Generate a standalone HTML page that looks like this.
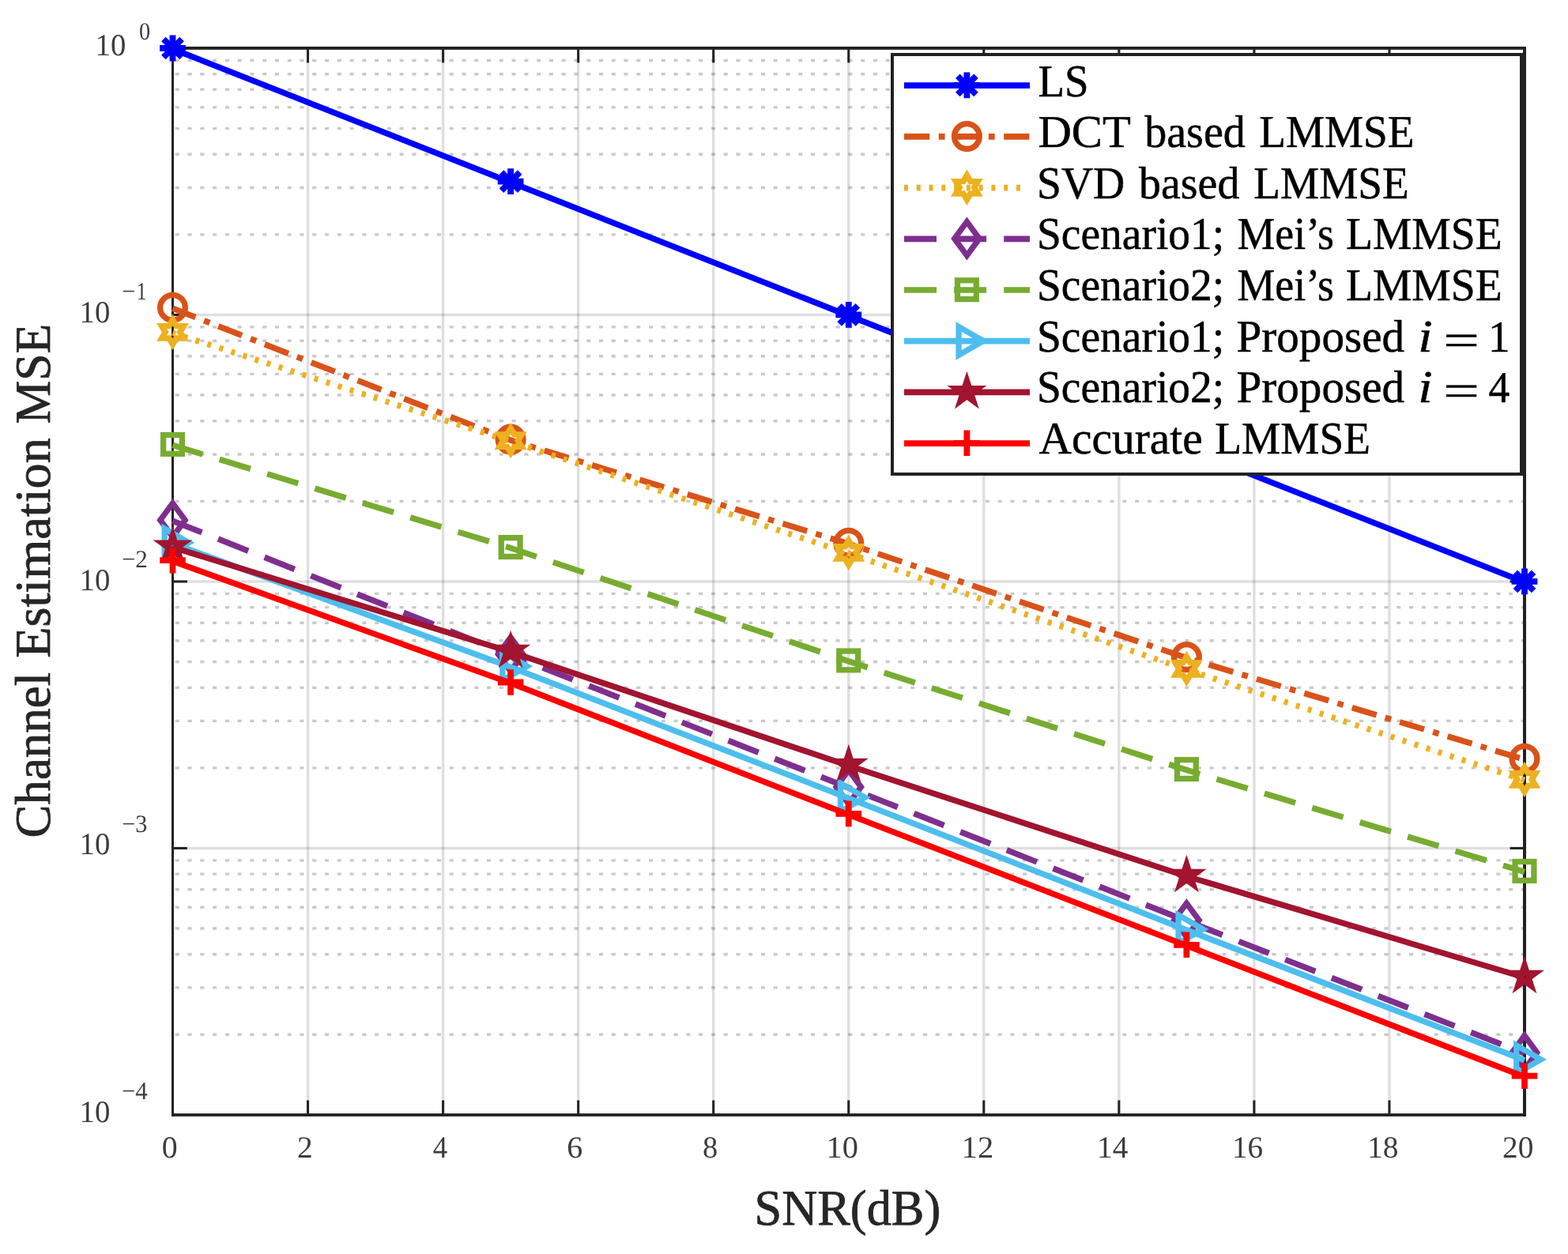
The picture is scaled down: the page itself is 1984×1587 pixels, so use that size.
<!DOCTYPE html>
<html lang="en">
<head>
<meta charset="utf-8">
<title>Channel Estimation MSE vs SNR(dB)</title>
<style>
html,body{margin:0;padding:0;background:#fff;}
body{width:1984px;height:1587px;}
svg{display:block;}
</style>
</head>
<body>
<svg width="1984" height="1587" viewBox="0 0 1984 1587" shape-rendering="geometricPrecision" text-rendering="geometricPrecision">
<rect x="0" y="0" width="1984" height="1587" fill="#fff"/>
<g id="grid" fill="none">
<path d="M221.8 296.88H1929M221.8 237.46H1929M221.8 195.29H1929M221.8 162.59H1929M221.8 135.87H1929M221.8 113.28H1929M221.8 93.7H1929M221.8 76.44H1929M221.8 634.36H1929M221.8 574.93H1929M221.8 532.77H1929M221.8 500.07H1929M221.8 473.34H1929M221.8 450.75H1929M221.8 431.18H1929M221.8 413.92H1929M221.8 971.83H1929M221.8 912.41H1929M221.8 870.24H1929M221.8 837.54H1929M221.8 810.82H1929M221.8 788.23H1929M221.8 768.65H1929M221.8 751.39H1929M221.8 1309.31H1929M221.8 1249.88H1929M221.8 1207.72H1929M221.8 1175.02H1929M221.8 1148.29H1929M221.8 1125.7H1929M221.8 1106.13H1929M221.8 1088.87H1929" stroke="#262626" stroke-opacity="0.25" stroke-width="3.4" stroke-dasharray="5 10.77"/>
<path d="M389.55 61V1410.9M560.6 61V1410.9M731.65 61V1410.9M902.7 61V1410.9M1073.75 61V1410.9M1244.8 61V1410.9M1415.85 61V1410.9M1586.9 61V1410.9M1757.95 61V1410.9" stroke="#262626" stroke-opacity="0.15" stroke-width="3.4"/>
<path d="M218.5 398.48H1929M218.5 735.95H1929M218.5 1073.43H1929" stroke="#262626" stroke-opacity="0.15" stroke-width="3.4"/>
</g>
<g id="axes" fill="#222222">
<rect x="217" y="59" width="3" height="1354"/>
<rect x="1927" y="59" width="4" height="1354"/>
<rect x="217" y="59" width="1714" height="3.9"/>
<rect x="217" y="1409.1" width="1714" height="3.8"/>
<rect x="388.05" y="1392.5" width="3" height="18.4"/>
<rect x="388.05" y="61" width="3" height="18.4"/>
<rect x="559.1" y="1392.5" width="3" height="18.4"/>
<rect x="559.1" y="61" width="3" height="18.4"/>
<rect x="730.15" y="1392.5" width="3" height="18.4"/>
<rect x="730.15" y="61" width="3" height="18.4"/>
<rect x="901.2" y="1392.5" width="3" height="18.4"/>
<rect x="901.2" y="61" width="3" height="18.4"/>
<rect x="1072.25" y="1392.5" width="3" height="18.4"/>
<rect x="1072.25" y="61" width="3" height="18.4"/>
<rect x="1243.3" y="1392.5" width="3" height="18.4"/>
<rect x="1243.3" y="61" width="3" height="18.4"/>
<rect x="1414.35" y="1392.5" width="3" height="18.4"/>
<rect x="1414.35" y="61" width="3" height="18.4"/>
<rect x="1585.4" y="1392.5" width="3" height="18.4"/>
<rect x="1585.4" y="61" width="3" height="18.4"/>
<rect x="1756.45" y="1392.5" width="3" height="18.4"/>
<rect x="1756.45" y="61" width="3" height="18.4"/>
<rect x="218.5" y="396.98" width="18.4" height="3"/>
<rect x="1910.6" y="396.98" width="18.4" height="3"/>
<rect x="218.5" y="734.45" width="18.4" height="3"/>
<rect x="1910.6" y="734.45" width="18.4" height="3"/>
<rect x="218.5" y="1071.93" width="18.4" height="3"/>
<rect x="1910.6" y="1071.93" width="18.4" height="3"/>
</g>
<g id="data">
<polyline points="218.5,62 646.12,230.7 1073.75,399.4 1501.38,568.1 1929,736.8" fill="none" stroke="#0000FF" stroke-width="7.5" stroke-linejoin="round"/>
<path stroke="#0000FF" stroke-width="7.8" fill="none" stroke-linejoin="miter" stroke-miterlimit="10" d="M202.1 61H234.9M218.5 44.6V77.4M206.9 49.4L230.1 72.6M206.9 72.6L230.1 49.4"/>
<path stroke="#0000FF" stroke-width="7.8" fill="none" stroke-linejoin="miter" stroke-miterlimit="10" d="M629.73 229.7H662.52M646.12 213.3V246.1M634.53 218.1L657.72 241.3M634.53 241.3L657.72 218.1"/>
<path stroke="#0000FF" stroke-width="7.8" fill="none" stroke-linejoin="miter" stroke-miterlimit="10" d="M1057.35 398.4H1090.15M1073.75 382V414.8M1062.15 386.8L1085.35 410M1062.15 410L1085.35 386.8"/>
<path stroke="#0000FF" stroke-width="7.8" fill="none" stroke-linejoin="miter" stroke-miterlimit="10" d="M1484.97 567.1H1517.78M1501.38 550.7V583.5M1489.78 555.5L1512.97 578.7M1489.78 578.7L1512.97 555.5"/>
<path stroke="#0000FF" stroke-width="7.8" fill="none" stroke-linejoin="miter" stroke-miterlimit="10" d="M1912.6 735.8H1945.4M1929 719.4V752.2M1917.4 724.2L1940.6 747.4M1917.4 747.4L1940.6 724.2"/>
<polyline points="218.5,390.3 646.12,557.1 1073.75,688.2 1501.38,832.6 1929,961.2" fill="none" stroke="#D95319" stroke-width="7.5" stroke-dasharray="32.2 11.55 7.8 11.55" stroke-dashoffset="1.2" stroke-linejoin="round"/>
<circle stroke="#D95319" stroke-width="7.3" fill="none" stroke-linejoin="miter" stroke-miterlimit="10" cx="218.5" cy="389.3" r="15.9"/>
<circle stroke="#D95319" stroke-width="7.3" fill="none" stroke-linejoin="miter" stroke-miterlimit="10" cx="646.12" cy="556.1" r="15.9"/>
<circle stroke="#D95319" stroke-width="7.3" fill="none" stroke-linejoin="miter" stroke-miterlimit="10" cx="1073.75" cy="687.2" r="15.9"/>
<circle stroke="#D95319" stroke-width="7.3" fill="none" stroke-linejoin="miter" stroke-miterlimit="10" cx="1501.38" cy="831.6" r="15.9"/>
<circle stroke="#D95319" stroke-width="7.3" fill="none" stroke-linejoin="miter" stroke-miterlimit="10" cx="1929" cy="960.2" r="15.9"/>
<polyline points="218.5,421.3 646.12,558.6 1073.75,700.4 1501.38,847.4 1929,987.4" fill="none" stroke="#EDB120" stroke-width="7.5" stroke-dasharray="5 10.775" stroke-dashoffset="1.2" stroke-linejoin="round"/>
<polygon stroke="#EDB120" stroke-width="7.3" fill="none" stroke-linejoin="miter" stroke-miterlimit="10" points="0,-15.4 4.45,-7.7 13.34,-7.7 8.89,0 13.34,7.7 4.45,7.7 0,15.4 -4.45,7.7 -13.34,7.7 -8.89,0 -13.34,-7.7 -4.45,-7.7" transform="translate(218.5 420.3) scale(1.04 1)"/>
<polygon stroke="#EDB120" stroke-width="7.3" fill="none" stroke-linejoin="miter" stroke-miterlimit="10" points="0,-15.4 4.45,-7.7 13.34,-7.7 8.89,0 13.34,7.7 4.45,7.7 0,15.4 -4.45,7.7 -13.34,7.7 -8.89,0 -13.34,-7.7 -4.45,-7.7" transform="translate(646.12 557.6) scale(1.04 1)"/>
<polygon stroke="#EDB120" stroke-width="7.3" fill="none" stroke-linejoin="miter" stroke-miterlimit="10" points="0,-15.4 4.45,-7.7 13.34,-7.7 8.89,0 13.34,7.7 4.45,7.7 0,15.4 -4.45,7.7 -13.34,7.7 -8.89,0 -13.34,-7.7 -4.45,-7.7" transform="translate(1073.75 699.4) scale(1.04 1)"/>
<polygon stroke="#EDB120" stroke-width="7.3" fill="none" stroke-linejoin="miter" stroke-miterlimit="10" points="0,-15.4 4.45,-7.7 13.34,-7.7 8.89,0 13.34,7.7 4.45,7.7 0,15.4 -4.45,7.7 -13.34,7.7 -8.89,0 -13.34,-7.7 -4.45,-7.7" transform="translate(1501.38 846.4) scale(1.04 1)"/>
<polygon stroke="#EDB120" stroke-width="7.3" fill="none" stroke-linejoin="miter" stroke-miterlimit="10" points="0,-15.4 4.45,-7.7 13.34,-7.7 8.89,0 13.34,7.7 4.45,7.7 0,15.4 -4.45,7.7 -13.34,7.7 -8.89,0 -13.34,-7.7 -4.45,-7.7" transform="translate(1929 986.4) scale(1.04 1)"/>
<polyline points="218.5,659.2 646.12,829 1073.75,997 1501.38,1165.5 1929,1333" fill="none" stroke="#7E2F8E" stroke-width="7.5" stroke-dasharray="41 22.1" stroke-dashoffset="1.2" stroke-linejoin="round"/>
<polygon stroke="#7E2F8E" stroke-width="7.3" fill="none" stroke-linejoin="miter" stroke-miterlimit="10" points="218.5,636.9 234.2,658.2 218.5,679.5 202.8,658.2"/>
<polygon stroke="#7E2F8E" stroke-width="7.3" fill="none" stroke-linejoin="miter" stroke-miterlimit="10" points="646.12,806.7 661.83,828 646.12,849.3 630.42,828"/>
<polygon stroke="#7E2F8E" stroke-width="7.3" fill="none" stroke-linejoin="miter" stroke-miterlimit="10" points="1073.75,974.7 1089.45,996 1073.75,1017.3 1058.05,996"/>
<polygon stroke="#7E2F8E" stroke-width="7.3" fill="none" stroke-linejoin="miter" stroke-miterlimit="10" points="1501.38,1143.2 1517.08,1164.5 1501.38,1185.8 1485.67,1164.5"/>
<polygon stroke="#7E2F8E" stroke-width="7.3" fill="none" stroke-linejoin="miter" stroke-miterlimit="10" points="1929,1310.7 1944.7,1332 1929,1353.3 1913.3,1332"/>
<polyline points="218.5,563.4 646.12,693.5 1073.75,836.9 1501.38,974.5 1929,1103.4" fill="none" stroke="#77AC30" stroke-width="7.5" stroke-dasharray="41 22.1" stroke-dashoffset="1.2" stroke-linejoin="round"/>
<rect stroke="#77AC30" stroke-width="7.3" fill="none" stroke-linejoin="miter" stroke-miterlimit="10" x="206.6" y="550.5" width="23.8" height="23.8"/>
<rect stroke="#77AC30" stroke-width="7.3" fill="none" stroke-linejoin="miter" stroke-miterlimit="10" x="634.23" y="680.6" width="23.8" height="23.8"/>
<rect stroke="#77AC30" stroke-width="7.3" fill="none" stroke-linejoin="miter" stroke-miterlimit="10" x="1061.85" y="824" width="23.8" height="23.8"/>
<rect stroke="#77AC30" stroke-width="7.3" fill="none" stroke-linejoin="miter" stroke-miterlimit="10" x="1489.47" y="961.6" width="23.8" height="23.8"/>
<rect stroke="#77AC30" stroke-width="7.3" fill="none" stroke-linejoin="miter" stroke-miterlimit="10" x="1917.1" y="1090.5" width="23.8" height="23.8"/>
<polyline points="218.5,687.8 646.12,844.2 1073.75,1010.2 1501.38,1176.9 1929,1341.8" fill="none" stroke="#4DBEEE" stroke-width="7.5" stroke-linejoin="round"/>
<polygon stroke="#4DBEEE" stroke-width="7.3" fill="none" stroke-linejoin="miter" stroke-miterlimit="10" points="239.2,686.8 208.15,668.87 208.15,704.73"/>
<polygon stroke="#4DBEEE" stroke-width="7.3" fill="none" stroke-linejoin="miter" stroke-miterlimit="10" points="666.83,843.2 635.77,825.27 635.77,861.13"/>
<polygon stroke="#4DBEEE" stroke-width="7.3" fill="none" stroke-linejoin="miter" stroke-miterlimit="10" points="1094.45,1009.2 1063.4,991.27 1063.4,1027.13"/>
<polygon stroke="#4DBEEE" stroke-width="7.3" fill="none" stroke-linejoin="miter" stroke-miterlimit="10" points="1522.08,1175.9 1491.03,1157.97 1491.03,1193.83"/>
<polygon stroke="#4DBEEE" stroke-width="7.3" fill="none" stroke-linejoin="miter" stroke-miterlimit="10" points="1949.7,1340.8 1918.65,1322.87 1918.65,1358.73"/>
<polyline points="218.5,692.6 646.12,825 1073.75,969 1501.38,1109 1929,1237" fill="none" stroke="#A2142F" stroke-width="7.5" stroke-linejoin="round"/>
<polygon stroke="#A2142F" stroke-width="7.3" fill="none" stroke-linejoin="miter" stroke-miterlimit="10" points="218.5,677.1 221.76,687.12 232.29,687.12 223.77,693.31 227.02,703.33 218.5,697.14 209.98,703.33 213.23,693.31 204.71,687.12 215.24,687.12"/>
<polygon stroke="#A2142F" stroke-width="7.3" fill="none" stroke-linejoin="miter" stroke-miterlimit="10" points="646.12,809.5 649.38,819.52 659.92,819.52 651.39,825.71 654.65,835.73 646.12,829.54 637.6,835.73 640.86,825.71 632.33,819.52 642.87,819.52"/>
<polygon stroke="#A2142F" stroke-width="7.3" fill="none" stroke-linejoin="miter" stroke-miterlimit="10" points="1073.75,953.5 1077.01,963.52 1087.54,963.52 1079.02,969.71 1082.27,979.73 1073.75,973.54 1065.23,979.73 1068.48,969.71 1059.96,963.52 1070.49,963.52"/>
<polygon stroke="#A2142F" stroke-width="7.3" fill="none" stroke-linejoin="miter" stroke-miterlimit="10" points="1501.38,1093.5 1504.63,1103.52 1515.17,1103.52 1506.64,1109.71 1509.9,1119.73 1501.38,1113.54 1492.85,1119.73 1496.11,1109.71 1487.58,1103.52 1498.12,1103.52"/>
<polygon stroke="#A2142F" stroke-width="7.3" fill="none" stroke-linejoin="miter" stroke-miterlimit="10" points="1929,1221.5 1932.26,1231.52 1942.79,1231.52 1934.27,1237.71 1937.52,1247.73 1929,1241.54 1920.48,1247.73 1923.73,1237.71 1915.21,1231.52 1925.74,1231.52"/>
<polyline points="218.5,710.2 646.12,864.5 1073.75,1030.9 1501.38,1196.8 1929,1362.7" fill="none" stroke="#FF0000" stroke-width="7.5" stroke-linejoin="round"/>
<path stroke="#FF0000" stroke-width="7.8" fill="none" stroke-linejoin="miter" stroke-miterlimit="10" d="M202.2 709.2H234.8M218.5 692.9V725.5"/>
<path stroke="#FF0000" stroke-width="7.8" fill="none" stroke-linejoin="miter" stroke-miterlimit="10" d="M629.83 863.5H662.42M646.12 847.2V879.8"/>
<path stroke="#FF0000" stroke-width="7.8" fill="none" stroke-linejoin="miter" stroke-miterlimit="10" d="M1057.45 1029.9H1090.05M1073.75 1013.6V1046.2"/>
<path stroke="#FF0000" stroke-width="7.8" fill="none" stroke-linejoin="miter" stroke-miterlimit="10" d="M1485.08 1195.8H1517.67M1501.38 1179.5V1212.1"/>
<path stroke="#FF0000" stroke-width="7.8" fill="none" stroke-linejoin="miter" stroke-miterlimit="10" d="M1912.7 1361.7H1945.3M1929 1345.4V1378"/>
</g>
<g id="legend">
<rect x="1129" y="69" width="796" height="531" fill="#fff" stroke="#222222" stroke-width="4"/>
<path d="M1144 108.2H1303" fill="none" stroke="#0000FF" stroke-width="7.7"/>
<path stroke="#0000FF" stroke-width="7.8" fill="none" stroke-linejoin="miter" stroke-miterlimit="10" d="M1207 107.9H1239.8M1223.4 91.5V124.3M1211.8 96.3L1235 119.5M1211.8 119.5L1235 96.3"/>
<path d="M1144 172.9H1303" fill="none" stroke="#D95319" stroke-width="7.7" stroke-dasharray="32.2 11.55 7.8 11.55"/>
<circle stroke="#D95319" stroke-width="7.3" fill="none" stroke-linejoin="miter" stroke-miterlimit="10" cx="1223.4" cy="172.6" r="15.9"/>
<path d="M1144 237.6H1301" fill="none" stroke="#EDB120" stroke-width="7.7" stroke-dasharray="5 10.775"/>
<polygon stroke="#EDB120" stroke-width="7.3" fill="none" stroke-linejoin="miter" stroke-miterlimit="10" points="0,-15.4 4.45,-7.7 13.34,-7.7 8.89,0 13.34,7.7 4.45,7.7 0,15.4 -4.45,7.7 -13.34,7.7 -8.89,0 -13.34,-7.7 -4.45,-7.7" transform="translate(1223.4 237.3) scale(1.04 1)"/>
<path d="M1144 302.3H1303" fill="none" stroke="#7E2F8E" stroke-width="7.7" stroke-dasharray="41 22.1"/>
<polygon stroke="#7E2F8E" stroke-width="7.3" fill="none" stroke-linejoin="miter" stroke-miterlimit="10" points="1223.4,280.7 1239.1,302 1223.4,323.3 1207.7,302"/>
<path d="M1144 367H1303" fill="none" stroke="#77AC30" stroke-width="7.7" stroke-dasharray="41 22.1"/>
<rect stroke="#77AC30" stroke-width="7.3" fill="none" stroke-linejoin="miter" stroke-miterlimit="10" x="1211.5" y="354.8" width="23.8" height="23.8"/>
<path d="M1144 431.7H1303" fill="none" stroke="#4DBEEE" stroke-width="7.7"/>
<polygon stroke="#4DBEEE" stroke-width="7.3" fill="none" stroke-linejoin="miter" stroke-miterlimit="10" points="1244.1,431.4 1213.05,413.47 1213.05,449.33"/>
<path d="M1144 496.4H1303" fill="none" stroke="#A2142F" stroke-width="7.7"/>
<polygon stroke="#A2142F" stroke-width="7.3" fill="none" stroke-linejoin="miter" stroke-miterlimit="10" points="1223.4,481.6 1226.66,491.62 1237.19,491.62 1228.67,497.81 1231.92,507.83 1223.4,501.64 1214.88,507.83 1218.13,497.81 1209.61,491.62 1220.14,491.62"/>
<path d="M1144 561.1H1303" fill="none" stroke="#FF0000" stroke-width="7.7"/>
<path stroke="#FF0000" stroke-width="7.8" fill="none" stroke-linejoin="miter" stroke-miterlimit="10" d="M1207.1 560.8H1239.7M1223.4 544.5V577.1"/>
</g>
<g id="text" font-family="'Liberation Serif', serif" fill="#000">
<text font-size="57.6" stroke="#000" stroke-width="0.5" stroke-linejoin="round" y="121.5"><tspan x="1313.52" textLength="64.09" lengthAdjust="spacingAndGlyphs">LS</tspan></text>
<text font-size="57.6" stroke="#000" stroke-width="0.5" stroke-linejoin="round" y="186.16"><tspan x="1313.42" textLength="116.55" lengthAdjust="spacingAndGlyphs">DCT</tspan> <tspan x="1448.2" textLength="127.68" lengthAdjust="spacingAndGlyphs">based</tspan> <tspan x="1593.21" textLength="196.34" lengthAdjust="spacingAndGlyphs">LMMSE</tspan></text>
<text font-size="57.6" stroke="#000" stroke-width="0.5" stroke-linejoin="round" y="250.82"><tspan x="1311.98" textLength="111.25" lengthAdjust="spacingAndGlyphs">SVD</tspan> <tspan x="1441.1" textLength="127.28" lengthAdjust="spacingAndGlyphs">based</tspan> <tspan x="1586.31" textLength="196.44" lengthAdjust="spacingAndGlyphs">LMMSE</tspan></text>
<text font-size="57.6" stroke="#000" stroke-width="0.5" stroke-linejoin="round" y="315.48"><tspan x="1311.99" textLength="237.26" lengthAdjust="spacingAndGlyphs">Scenario1;</tspan> <tspan x="1565.59" textLength="122.41" lengthAdjust="spacingAndGlyphs">Mei’s</tspan> <tspan x="1702.9" textLength="197.87" lengthAdjust="spacingAndGlyphs">LMMSE</tspan></text>
<text font-size="57.6" stroke="#000" stroke-width="0.5" stroke-linejoin="round" y="380.14"><tspan x="1311.99" textLength="237.26" lengthAdjust="spacingAndGlyphs">Scenario2;</tspan> <tspan x="1565.59" textLength="122.41" lengthAdjust="spacingAndGlyphs">Mei’s</tspan> <tspan x="1702.9" textLength="197.87" lengthAdjust="spacingAndGlyphs">LMMSE</tspan></text>
<text font-size="57.6" stroke="#000" stroke-width="0.5" stroke-linejoin="round" y="444.8"><tspan x="1311.99" textLength="237.26" lengthAdjust="spacingAndGlyphs">Scenario1;</tspan> <tspan x="1564.45" textLength="212.74" lengthAdjust="spacingAndGlyphs">Proposed</tspan> <tspan x="1794.16" textLength="18.4" lengthAdjust="spacingAndGlyphs" font-style="italic">i</tspan> <tspan x="1826.26" textLength="45.69" lengthAdjust="spacingAndGlyphs" dy="4.9">=</tspan> <tspan x="1882.96" textLength="27.55" lengthAdjust="spacingAndGlyphs" dy="-4.9" font-size="55.9">1</tspan></text>
<text font-size="57.6" stroke="#000" stroke-width="0.5" stroke-linejoin="round" y="509.46"><tspan x="1311.99" textLength="237.26" lengthAdjust="spacingAndGlyphs">Scenario2;</tspan> <tspan x="1564.45" textLength="212.74" lengthAdjust="spacingAndGlyphs">Proposed</tspan> <tspan x="1794.16" textLength="18.4" lengthAdjust="spacingAndGlyphs" font-style="italic">i</tspan> <tspan x="1826.26" textLength="45.69" lengthAdjust="spacingAndGlyphs" dy="4.9">=</tspan> <tspan x="1883.46" textLength="26.68" lengthAdjust="spacingAndGlyphs" dy="-4.9" font-size="55.9">4</tspan></text>
<text font-size="57.6" stroke="#000" stroke-width="0.5" stroke-linejoin="round" y="574.12"><tspan x="1314.54" textLength="207.25" lengthAdjust="spacingAndGlyphs">Accurate</tspan> <tspan x="1537.31" textLength="196.65" lengthAdjust="spacingAndGlyphs">LMMSE</tspan></text>
<text font-size="39" fill="#3d3d3d" y="1464.5"><tspan x="204.88" textLength="19.94" lengthAdjust="spacingAndGlyphs">0</tspan></text>
<text font-size="39" fill="#3d3d3d" y="1464.5"><tspan x="376.07" textLength="19.71" lengthAdjust="spacingAndGlyphs">2</tspan></text>
<text font-size="39" fill="#3d3d3d" y="1464.5"><tspan x="547.68" textLength="18.39" lengthAdjust="spacingAndGlyphs">4</tspan></text>
<text font-size="39" fill="#3d3d3d" y="1464.5"><tspan x="717.28" textLength="20.01" lengthAdjust="spacingAndGlyphs">6</tspan></text>
<text font-size="39" fill="#3d3d3d" y="1464.5"><tspan x="888.94" textLength="19.23" lengthAdjust="spacingAndGlyphs">8</tspan></text>
<text font-size="39" fill="#3d3d3d" y="1464.5"><tspan x="1045.55" textLength="40.39" lengthAdjust="spacingAndGlyphs">10</tspan></text>
<text font-size="39" fill="#3d3d3d" y="1464.5"><tspan x="1216.63" textLength="40.61" lengthAdjust="spacingAndGlyphs">12</tspan></text>
<text font-size="39" fill="#3d3d3d" y="1464.5"><tspan x="1388.14" textLength="39.38" lengthAdjust="spacingAndGlyphs">14</tspan></text>
<text font-size="39" fill="#3d3d3d" y="1464.5"><tspan x="1559.06" textLength="39.1" lengthAdjust="spacingAndGlyphs">16</tspan></text>
<text font-size="39" fill="#3d3d3d" y="1464.5"><tspan x="1730.03" textLength="39.47" lengthAdjust="spacingAndGlyphs">18</tspan></text>
<text font-size="39" fill="#3d3d3d" y="1464.5"><tspan x="1901.07" textLength="39.33" lengthAdjust="spacingAndGlyphs">20</tspan></text>
<text font-size="39" fill="#3d3d3d" y="70.1"><tspan x="120.55" textLength="38.73" lengthAdjust="spacingAndGlyphs">10</tspan></text>
<text font-size="31.4" fill="#3d3d3d" y="49.9"><tspan x="175.92" textLength="14.16" lengthAdjust="spacingAndGlyphs">0</tspan></text>
<text font-size="39" fill="#3d3d3d" y="408"><tspan x="100.54" textLength="38.84" lengthAdjust="spacingAndGlyphs">10</tspan></text>
<text font-size="31.4" fill="#3d3d3d" y="379.2"><tspan x="154.29" textLength="17.09" lengthAdjust="spacingAndGlyphs">−</tspan> <tspan x="172.75" textLength="12.78" lengthAdjust="spacingAndGlyphs">1</tspan></text>
<text font-size="39" fill="#3d3d3d" y="747"><tspan x="100.54" textLength="38.84" lengthAdjust="spacingAndGlyphs">10</tspan></text>
<text font-size="31.4" fill="#3d3d3d" y="718"><tspan x="154.29" textLength="17.09" lengthAdjust="spacingAndGlyphs">−</tspan> <tspan x="171.33" textLength="15.59" lengthAdjust="spacingAndGlyphs">2</tspan></text>
<text font-size="39" fill="#3d3d3d" y="1081"><tspan x="100.54" textLength="38.84" lengthAdjust="spacingAndGlyphs">10</tspan></text>
<text font-size="31.4" fill="#3d3d3d" y="1053"><tspan x="154.29" textLength="17.09" lengthAdjust="spacingAndGlyphs">−</tspan> <tspan x="171.25" textLength="15.13" lengthAdjust="spacingAndGlyphs">3</tspan></text>
<text font-size="39" fill="#3d3d3d" y="1420"><tspan x="100.54" textLength="38.84" lengthAdjust="spacingAndGlyphs">10</tspan></text>
<text font-size="31.4" fill="#3d3d3d" y="1391.1"><tspan x="154.29" textLength="17.09" lengthAdjust="spacingAndGlyphs">−</tspan> <tspan x="171.29" textLength="15.49" lengthAdjust="spacingAndGlyphs">4</tspan></text>
<text font-size="63.5" fill="#262626" stroke="#262626" stroke-width="0.8" stroke-linejoin="round" y="1549.7"><tspan x="954.53" textLength="235.71" lengthAdjust="spacingAndGlyphs">SNR(dB)</tspan></text>
<text font-size="63.5" fill="#262626" stroke="#262626" stroke-width="0.8" stroke-linejoin="round" transform="translate(62.8 1057.9) rotate(-90)" y="0"><tspan x="-2.58" textLength="209.64" lengthAdjust="spacingAndGlyphs">Channel</tspan> <tspan x="225.05" textLength="278.73" lengthAdjust="spacingAndGlyphs">Estimation</tspan> <tspan x="521.53" textLength="126.54" lengthAdjust="spacingAndGlyphs">MSE</tspan></text>
</g>
</svg>
</body>
</html>
